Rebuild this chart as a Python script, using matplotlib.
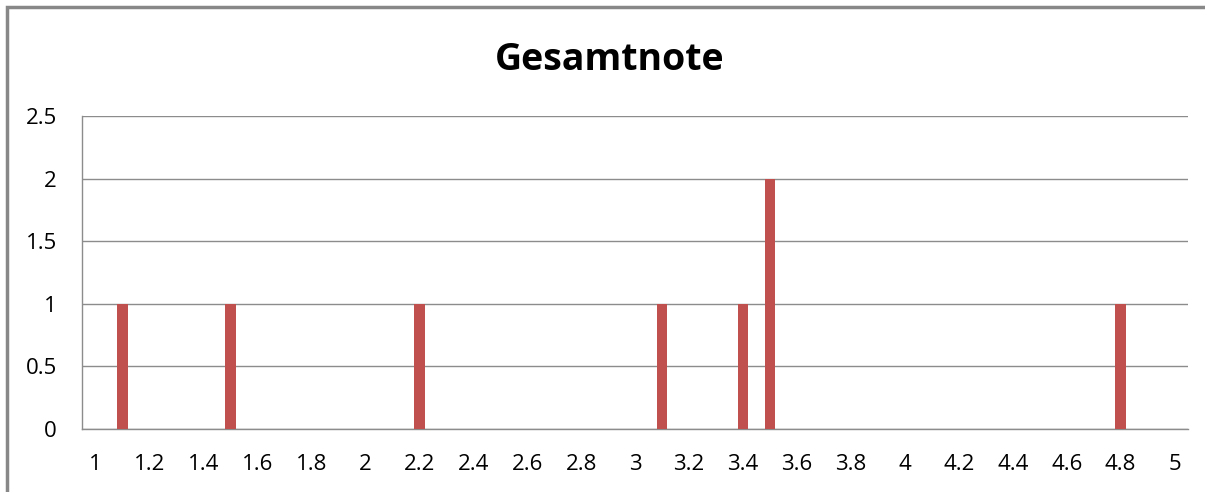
import matplotlib
matplotlib.use('Agg')
import matplotlib.pyplot as plt
import matplotlib.patches as mpatches

plt.rcParams['font.family'] = ['Open Sans', 'DejaVu Sans']

# categories on the grade axis (Excel category axis, 1.0 .. 5.0)
categories = ['1', '1.1', '1.2', '1.3', '1.4', '1.5', '1.6', '1.7', '1.8', '1.9',
              '2', '2.1', '2.2', '2.3', '2.4', '2.5', '2.6', '2.7', '2.8', '2.9',
              '3', '3.1', '3.2', '3.3', '3.4', '3.5', '3.6', '3.7', '3.8', '3.9',
              '4', '4.1', '4.2', '4.3', '4.4', '4.5', '4.6', '4.7', '4.8', '4.9',
              '5']
grades = ['1.1', '1.5', '2.2', '3.1', '3.4', '3.5', '4.8']
counts = [1, 1, 1, 1, 1, 2, 1]
yticks = [0, 0.5, 1, 1.5, 2, 2.5]
ytick_labels = ['0', '0.5', '1', '1.5', '2', '2.5']

lookup = dict(zip(grades, counts))
heights = [lookup.get(c, 0) for c in categories]

fig = plt.figure(figsize=(12.05, 4.92), dpi=100)
ax = fig.add_axes([0.068, 0.128, 0.918, 0.636])

ax.bar(range(len(categories)), heights, width=0.4, color='#C0504D', zorder=3)

ax.set_xlim(-0.5, len(categories) - 0.5)
ax.set_ylim(0, 2.5)
ax.set_yticks(yticks)
ax.set_yticklabels(ytick_labels)
ax.set_xticks(range(0, len(categories), 2))
ax.set_xticklabels(categories[::2])
ax.tick_params(axis='both', length=0, labelsize=16, colors='#000000')
ax.tick_params(axis='x', pad=18)
ax.tick_params(axis='y', pad=18)
ax.grid(axis='y', color='#8c8c8c', linewidth=1, zorder=0)

for side in ['top', 'right']:
    ax.spines[side].set_visible(False)
for side in ['left', 'bottom']:
    ax.spines[side].set_color('#8c8c8c')
    ax.spines[side].set_linewidth(1)

fig.text(610 / 1205, 1 - 60 / 492, 'Gesamtnote', fontsize=27,
         fontweight='bold', ha='center', va='center')

# outer chart frame
frame = mpatches.Rectangle((7 / 1205, -0.5), 2, 1.5 - 7 / 492,
                           transform=fig.transFigure, fill=False,
                           edgecolor='#888888', linewidth=2.5)
fig.patches.append(frame)

fig.savefig('out.png', dpi=100)
